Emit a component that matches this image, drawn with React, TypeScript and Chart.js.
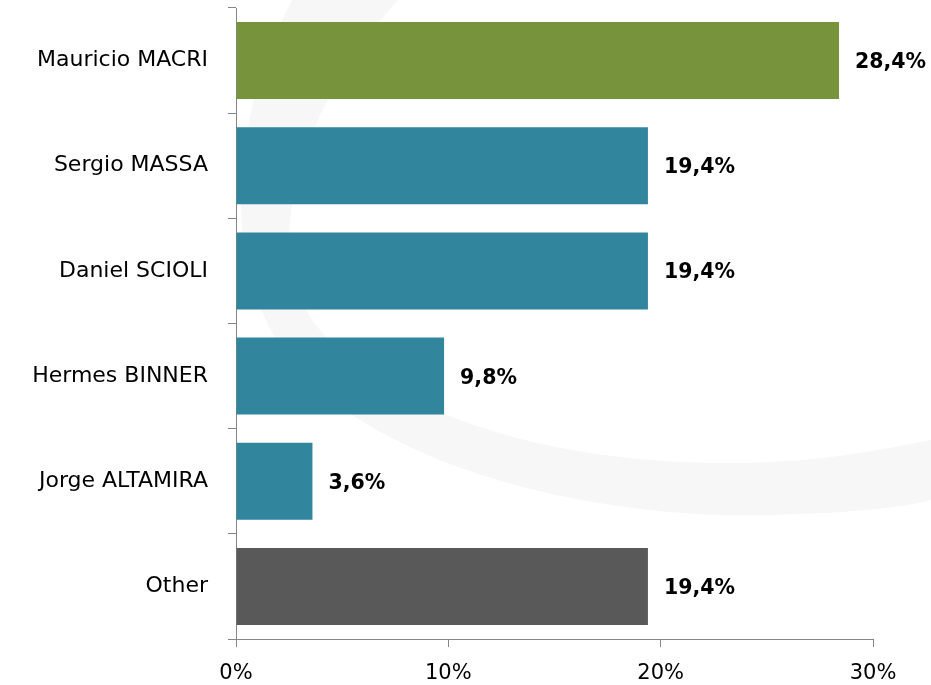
import React, { useEffect, useRef } from "react";
import { Chart, registerables } from "chart.js";

Chart.register(...registerables);

const categories = ["Mauricio MACRI", "Sergio MASSA", "Daniel SCIOLI", "Hermes BINNER", "Jorge ALTAMIRA", "Other"];
const values = [28.4, 19.4, 19.4, 9.8, 3.6, 19.4];
const valueLabels = ["28,4%", "19,4%", "19,4%", "9,8%", "3,6%", "19,4%"];
const barColors = ["#77933C", "#31859C", "#31859C", "#31859C", "#31859C", "#595959"];
const xTicks = [0, 10, 20, 30];

const FONT = "'DejaVu Sans', sans-serif";

const watermark = {
  id: "watermark",
  beforeDraw(chart: any) {
    const ctx = chart.ctx;
    ctx.save();
    ctx.fillStyle = "#ffffff";
    ctx.fillRect(0, 0, chart.width, chart.height);
    ctx.fillStyle = "#f7f7f7";
    ctx.beginPath();
    ctx.moveTo(292, 0);
    ctx.bezierCurveTo(235, 110, 215, 260, 290, 360);
    ctx.bezierCurveTo(380, 470, 600, 520, 770, 515);
    ctx.bezierCurveTo(850, 513, 900, 508, 931, 500);
    ctx.lineTo(931, 440);
    ctx.bezierCurveTo(880, 450, 820, 462, 740, 463);
    ctx.bezierCurveTo(560, 465, 400, 420, 320, 330);
    ctx.bezierCurveTo(260, 260, 290, 120, 398, 0);
    ctx.closePath();
    ctx.fill();
    ctx.restore();
  },
};

const valueLabelPlugin = {
  id: "valueLabels",
  afterDatasetsDraw(chart: any) {
    const ctx = chart.ctx;
    const meta = chart.getDatasetMeta(0);
    const size = 20.5;
    ctx.save();
    ctx.font = `bold ${size}px ${FONT}`;
    ctx.fillStyle = "#000000";
    ctx.textAlign = "left";
    ctx.textBaseline = "alphabetic";
    meta.data.forEach((bar: any, i: number) => {
      ctx.fillText(valueLabels[i], bar.x + 16, bar.y + size * 0.729 / 2);
    });
    ctx.restore();
  },
};

export default function App() {
  const ref = useRef<HTMLCanvasElement>(null);
  useEffect(() => {
    if (!ref.current) return;
    const chart = new Chart(ref.current, {
      type: "bar",
      data: {
        labels: categories,
        datasets: [
          {
            data: values,
            backgroundColor: barColors,
            barPercentage: 0.732,
            categoryPercentage: 1,
          },
        ],
      },
      plugins: [watermark, valueLabelPlugin],
      options: {
        indexAxis: "y",
        responsive: false,
        animation: false,
        layout: { padding: { top: 8, right: 58, left: 0, bottom: 0 } },
        plugins: { legend: { display: false }, tooltip: { enabled: false } },
        scales: {
          x: {
            min: 0,
            max: 30,
            afterFit: (s: any) => {
              s.height = 46;
              s.paddingLeft = 0;
              s.paddingRight = 0;
            },
            afterBuildTicks: (s: any) => {
              s.ticks = xTicks.map((v) => ({ value: v }));
            },
            border: { display: true, color: "#868686", width: 1 },
            grid: {
              display: true,
              drawOnChartArea: false,
              drawTicks: true,
              tickLength: 8,
              color: "#868686",
            },
            ticks: {
              padding: 14,
              color: "#000000",
              font: { family: FONT, size: 21 },
              callback: (v: any) => `${v}%`,
              maxRotation: 0,
            },
          },
          y: {
            afterFit: (s: any) => {
              s.width = 236;
              s.paddingTop = 0;
              s.paddingBottom = 0;
            },
            border: { display: true, color: "#868686", width: 1 },
            grid: {
              display: true,
              offset: true,
              drawOnChartArea: false,
              drawTicks: true,
              tickLength: 8,
              color: "#868686",
            },
            ticks: {
              padding: 20,
              color: "#000000",
              font: { family: FONT, size: 22 },
            },
          },
        },
      },
    });
    return () => chart.destroy();
  }, []);
  return (
    <canvas
      ref={ref}
      width={931}
      height={685}
      style={{ position: "absolute", left: 0, top: 0, display: "block" }}
    />
  );
}
